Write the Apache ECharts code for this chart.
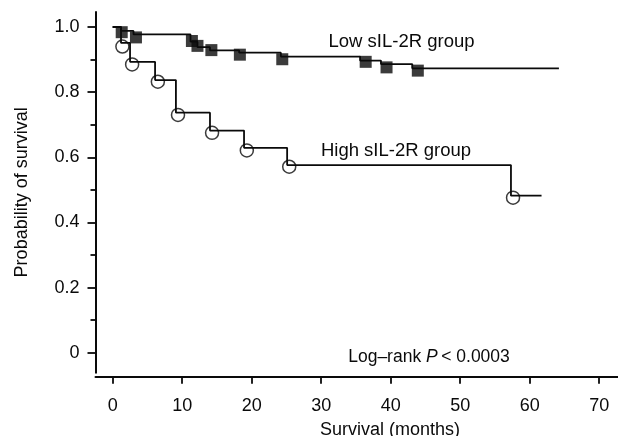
<!DOCTYPE html>
<html>
<head>
<meta charset="utf-8">
<script src="https://cdn.jsdelivr.net/npm/echarts@6/dist/echarts.min.js"></script>
<style>
html,body{margin:0;padding:0;background:#fff;}
#c{width:618px;height:436px;}
</style>
</head>
<body>
<div id="c"></div>
<script>
// Kaplan-Meier step curves (time in months, survival probability)
var lowTime = [0, 1.2, 3.0, 11.2, 12.2, 14.0, 18.2, 24.2, 35.6, 38.6, 43.1, 64.2];
var lowSurv = [1.0, 0.988, 0.977, 0.955, 0.938, 0.928, 0.921, 0.909, 0.897, 0.886, 0.873, 0.873];
var highTime = [0, 1.2, 2.5, 6.1, 9.1, 14.0, 18.9, 25.1, 57.3, 61.7];
var highSurv = [1.0, 0.951, 0.893, 0.837, 0.737, 0.682, 0.629, 0.576, 0.482, 0.482];
// plotted markers
var lowMarkX = [1.3, 3.35, 11.4, 12.2, 14.2, 18.3, 24.4, 36.4, 39.4, 43.9];
var lowMarkY = [0.984, 0.968, 0.957, 0.942, 0.929, 0.915, 0.901, 0.893, 0.876, 0.866];
var highMarkX = [1.4, 2.8, 6.5, 9.4, 14.3, 19.3, 25.4, 57.6];
var highMarkY = [0.94, 0.885, 0.832, 0.73, 0.675, 0.621, 0.571, 0.476];
// ticks
var xTicks = [0, 10, 20, 30, 40, 50, 60, 70];
var yTicks = [0, 0.2, 0.4, 0.6, 0.8, 1.0];
var yMinorTicks = [0.1, 0.3, 0.5, 0.7, 0.9];

function zip(a, b) { return a.map(function (v, i) { return [v, b[i]]; }); }

var FONT = '"Liberation Sans", Arial, Helvetica, sans-serif';
var INK = '#0a0a0a';

var chart = echarts.init(document.getElementById('c'), null, {renderer: 'canvas'});
chart.setOption({
  backgroundColor: '#fff',
  animation: false,
  grid: {left: 95.5, right: 0, top: 12, bottom: 63.3, containLabel: false},
  xAxis: {
    type: 'value', min: -2.47, max: 72.7, offset: 4,
    axisLine: {show: true, onZero: false, lineStyle: {color: INK, width: 2}},
    axisTick: {show: true, customValues: xTicks, length: 7, inside: false, lineStyle: {color: INK, width: 1.8}},
    axisLabel: {customValues: xTicks, margin: 20, color: INK, fontSize: 18, fontFamily: FONT,
      formatter: function (v) { return String(v); }},
    splitLine: {show: false}
  },
  yAxis: [{
    type: 'value', min: -0.0614, max: 1.046, position: 'left',
    name: 'Probability of survival', nameLocation: 'middle', nameGap: 64, nameRotate: 90,
    nameTextStyle: {color: INK, fontSize: 18, fontFamily: FONT},
    axisLine: {show: true, onZero: false, lineStyle: {color: INK, width: 2}},
    axisTick: {show: true, customValues: yTicks, length: 8, lineStyle: {color: INK, width: 1.8}},
    axisLabel: {customValues: yTicks, margin: 16, color: INK, fontSize: 18, fontFamily: FONT,
      formatter: function (v) { return v === 0 ? '0' : v.toFixed(1); }},
    splitLine: {show: false}
  }, {
    type: 'value', min: -0.0614, max: 1.046, position: 'left',
    axisLine: {show: false, onZero: false},
    axisTick: {show: true, customValues: yMinorTicks, length: 5, lineStyle: {color: INK, width: 1.8}},
    axisLabel: {show: false},
    splitLine: {show: false}
  }],
  series: [
    {type: 'line', step: 'end', data: zip(lowTime, lowSurv), symbol: 'none',
      lineStyle: {color: INK, width: 1.8}, z: 2},
    {type: 'line', step: 'end', data: zip(highTime, highSurv), symbol: 'none',
      lineStyle: {color: INK, width: 1.8}, z: 2},
    {type: 'scatter', data: zip(lowMarkX, lowMarkY), symbol: 'rect', symbolSize: 12,
      itemStyle: {color: INK}, z: 3},
    {type: 'scatter', data: zip(highMarkX, highMarkY), symbol: 'circle', symbolSize: 13,
      itemStyle: {color: 'rgba(0,0,0,0)', borderColor: INK, borderWidth: 1.5}, z: 3}
  ],
  graphic: [
    {type: 'text', x: 401.5, y: 42, style: {text: 'Low sIL-2R group', font: '18.5px ' + FONT, fill: INK,
      align: 'center', verticalAlign: 'middle', textAlign: 'center', textVerticalAlign: 'middle'}},
    {type: 'text', x: 396, y: 150.5, style: {text: 'High sIL-2R group', font: '18.5px ' + FONT, fill: INK,
      align: 'center', verticalAlign: 'middle', textAlign: 'center', textVerticalAlign: 'middle'}},
    {type: 'text', x: 429, y: 357, style: {
      text: '{n|Log\u2013rank }{i|P}{n|\u2009< 0.0003}',
      font: '17.5px ' + FONT, fill: INK,
      align: 'center', verticalAlign: 'middle', textAlign: 'center', textVerticalAlign: 'middle',
      rich: {
        n: {fontSize: 17.5, fontFamily: FONT, fill: INK, color: INK},
        i: {fontSize: 17.5, fontFamily: FONT, fontStyle: 'italic', fill: INK, color: INK}
      }}},
    {type: 'text', x: 390, y: 430, style: {text: 'Survival (months)', font: '18px ' + FONT, fill: INK,
      align: 'center', verticalAlign: 'middle', textAlign: 'center', textVerticalAlign: 'middle'}}
  ]
});
</script>
</body>
</html>
